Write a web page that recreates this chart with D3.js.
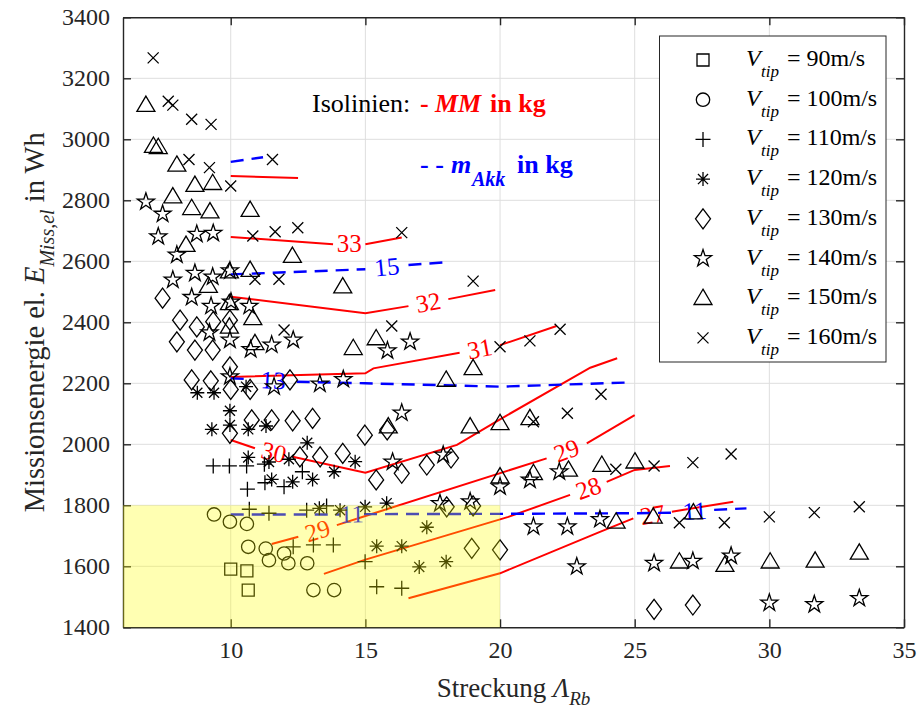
<!DOCTYPE html>
<html>
<head>
<meta charset="utf-8">
<script src="https://cdn.jsdelivr.net/npm/d3@7"></script>
<style>
body { margin: 0; background: #fff; }
text, tspan { font-family: "Liberation Serif", "Times New Roman", serif; }
</style>
</head>
<body>
<div id="chart"></div>
<script>
// axis ticks
const xTicks = [10, 15, 20, 25, 30, 35];
const yTicks = [1400, 1600, 1800, 2000, 2200, 2400, 2600, 2800, 3000, 3200, 3400];

// scatter series, one per tip speed  [Streckung, Missionsenergie]
const tipSpeeds = [90, 100, 110, 120, 130, 140, 150, 160];
const markerNames = ['square', 'circle', 'plus', 'asterisk', 'diamond', 'star', 'triangle', 'times'];

const v90 = [[10.0,1591],[10.6,1585],[10.65,1522]];
const v100 = [[9.38,1770],[9.97,1746],[10.6,1739],[10.65,1664],[11.3,1658],[11.42,1620],[11.98,1642],
  [12.14,1610],[12.84,1610],[13.07,1522],[13.84,1522]];
const v110 = [[9.35,1929],[9.95,1929],[10.59,1929],[10.62,1853],[11.25,1935],[11.27,1874],[11.98,1861],
  [12.66,1910],[10.69,1787],[11.42,1774],[12.82,1784],[13.56,1798],[12.32,1664],[13.07,1670],[13.81,1670],
  [14.99,1615],[15.42,1533],[16.35,1528]];
const v120 = [[8.76,2169],[9.38,2169],[10.57,2189],[9.97,2110],[9.97,2063],[9.3,2049],[10.65,2049],
  [11.31,2060],[10.65,1957],[11.42,1942],[12.16,1951],[12.84,2005],[11.52,1885],[12.3,1877],[13.04,1885],
  [13.84,1910],[14.62,1943],[13.29,1790],[14.06,1784],[14.99,1795],[15.42,1666],[15.79,1807],[16.35,1666],
  [17.28,1728],[17.0,1598],[18.0,1615]];
const v130 = [[7.47,2479],[8.12,2407],[8.74,2385],[9.35,2402],[9.97,2407],[8.0,2336],[8.67,2309],[9.33,2309],
  [9.97,2254],[8.55,2211],[9.26,2208],[10.0,2180],[10.72,2180],[12.2,2211],[10.78,2080],[11.52,2080],
  [12.3,2077],[13.04,2085],[9.97,2036],[14.98,2030],[12.57,1959],[13.32,1959],[14.16,1970],[15.4,1883],
  [15.81,2047],[16.35,1905],[17.28,1932],[18.18,1955],[18.02,1795],[19.0,1798],[18.95,1659],[20.0,1654],
  [25.72,1459],[27.16,1473]];
const v140 = [[6.85,2795],[7.47,2755],[7.31,2681],[8.74,2689],[9.35,2692],[8.0,2621],[7.85,2539],[8.67,2561],
  [9.33,2549],[9.97,2569],[8.55,2482],[9.27,2453],[10.01,2467],[10.69,2453],[9.21,2366],[9.97,2342],
  [11.52,2326],[12.32,2342],[10.74,2311],[13.31,2198],[14.18,2213],[11.61,2189],[9.97,2222],[15.82,2307],
  [16.66,2336],[16.35,2103],[16.01,1942],[17.89,1965],[18.89,1812],[17.77,1806],[20.0,1861],[21.11,1883],
  [22.2,1910],[21.24,1730],[22.5,1730],[23.71,1754],[22.85,1599],[25.72,1610],[27.16,1617],[28.58,1634],
  [30.0,1480],[31.67,1475],[33.34,1495]];
const v150 = [[6.85,3112],[7.13,2978],[7.31,2974],[8.0,2916],[8.67,2850],[9.33,2856],[7.85,2812],[8.55,2774],
  [9.23,2763],[10.72,2768],[8.34,2653],[12.29,2617],[10.72,2571],[9.17,2519],[9.95,2566],[9.95,2462],
  [10.82,2413],[9.95,2385],[10.9,2331],[14.16,2517],[14.55,2315],[15.4,2347],[18.0,2211],[19.0,2249],
  [15.85,2058],[18.89,2058],[20.0,2069],[21.11,2085],[20.0,1894],[21.24,1905],[22.54,1916],[23.78,1932],
  [25.01,1943],[24.31,1746],[25.69,1762],[27.18,1776],[26.66,1615],[28.35,1604],[30.03,1615],[31.7,1618],
  [33.34,1644]];
const v160 = [[7.12,3267],[7.68,3125],[7.85,3112],[8.55,3066],[9.27,3049],[8.45,2934],[9.21,2907],[10.0,2847],
  [11.55,2934],[10.82,2683],[11.65,2697],[12.49,2710],[16.35,2694],[10.9,2541],[11.79,2541],[11.98,2375],
  [15.98,2388],[19.0,2535],[20.0,2320],[21.11,2339],[22.23,2377],[23.75,2164],[22.5,2102],[21.24,2074],
  [24.3,1918],[25.72,1929],[27.16,1940],[28.58,1968],[26.66,1743],[28.33,1743],[30.0,1762],[31.67,1776],
  [33.34,1795]];
const seriesPoints = [v90, v100, v110, v120, v130, v140, v150, v160];

// isolines MM in kg (solid red); pieces are split where the inline label sits
const mmLevels = [null, 33, 32, 31, 30, 29, 28, 27];
const mmTop = [[[10,2880],[12.5,2873]]];
const mm33 = [[[10,2680],[13.8,2656]], [[15,2656],[16.35,2678]]];
const mm32 = [[[10,2484],[15,2430],[16.6,2453]], [[18.08,2476],[19.82,2506]]];
const mm31 = [[[10,2221],[15,2233],[15.3,2249],[18.5,2300]], [[20,2325],[22.1,2388]]];
const mm30 = [[[10,2014],[10.9,1987]], [[12.3,1959],[15,1907],[18.4,1998],[20,2082],[23.35,2251],[24.35,2282]]];
const mm29 = [[[11.52,1673],[12.51,1697]], [[13.94,1735],[15,1765],[21.73,1954]], [[23.22,2003],[25.0,2096]]];
const mm28 = [[[13.46,1575],[15,1622],[20.31,1762],[22.6,1834]], [[23.96,1877],[25.0,1916],[26.31,1929]]];
const mm27 = [[[16.6,1495],[20.0,1577],[23.71,1713],[24.95,1757]], [[26.38,1779],[28.66,1812]]];
const mmLines = [mmTop, mm33, mm32, mm31, mm30, mm29, mm28, mm27];

// isolines m_Akk in kg (dashed blue)
const akkLevels = [null, 15, 13, 11];
const akkTop = [[[10,2926],[11.2,2941]]];
const akk15 = [[[10,2557],[15,2574]], [[16.6,2588],[18.0,2597]]];
const akk13 = [[[10,2216],[10.7,2214]], [[12.45,2205],[15,2200],[20,2189],[24.9,2203]]];
const akk11 = [[[10,1770],[14.05,1770]], [[14.95,1771],[20,1772],[25,1774],[26.5,1776]], [[27.95,1785],[29.15,1790]]];
const akkLines = [akkTop, akk15, akk13, akk11];

const W = 920, H = 717;
const margin = {left: 123, right: 904, top: 17.3, bottom: 627.3};
const serif = '"Liberation Serif", "Times New Roman", serif';

const x = d3.scaleLinear().domain([6, 35]).range([margin.left, margin.right]);
const y = d3.scaleLinear().domain([1400, 3400]).range([margin.bottom, margin.top]);

const svg = d3.select('#chart').append('svg')
    .attr('width', W)
    .attr('height', H)
    .attr('font-family', serif);

svg.append('defs').append('clipPath').attr('id', 'plotClip')
    .append('rect')
    .attr('x', margin.left).attr('y', margin.top)
    .attr('width', margin.right - margin.left)
    .attr('height', margin.bottom - margin.top);

// grid
const grid = svg.append('g').attr('stroke', '#dedede').attr('stroke-width', 1);
grid.selectAll('line.gx').data(xTicks.filter(d => d < 35)).enter().append('line')
    .attr('x1', d => x(d)).attr('x2', d => x(d))
    .attr('y1', margin.top).attr('y2', margin.bottom);
grid.selectAll('line.gy').data(yTicks.filter(d => d > 1400 && d < 3400)).enter().append('line')
    .attr('x1', margin.left).attr('x2', margin.right)
    .attr('y1', d => y(d)).attr('y2', d => y(d));

// isolines
const line = d3.line().x(d => x(d[0])).y(d => y(d[1]));
const plot = svg.append('g').attr('clip-path', 'url(#plotClip)');

function drawIsolines(sets, levels, color, dash, width) {
    sets.forEach((pieces, k) => {
        plot.selectAll(null).data(pieces).enter().append('path')
            .attr('d', line)
            .attr('fill', 'none')
            .attr('stroke', color)
            .attr('stroke-width', width)
            .attr('stroke-dasharray', dash);
        if (levels[k] === null) return;
        for (let i = 0; i < pieces.length - 1; i++) {
            const a = pieces[i][pieces[i].length - 1], b = pieces[i + 1][0];
            const ax = x(a[0]), ay = y(a[1]), bx = x(b[0]), by = y(b[1]);
            const ang = Math.atan2(by - ay, bx - ax) * 180 / Math.PI;
            plot.append('text')
                .attr('transform', `translate(${(ax + bx) / 2},${(ay + by) / 2}) rotate(${ang})`)
                .attr('text-anchor', 'middle')
                .attr('dy', '0.33em')
                .attr('fill', color)
                .style('font-size', '25px')
                .text(levels[k]);
        }
    });
}
drawIsolines(mmLines, mmLevels, '#ff0000', null, 2);
drawIsolines(akkLines, akkLevels, '#0000ff', '13,8', 2.4);

// marker shapes
const shapes = {
    square: {draw(c, s) { const r = Math.sqrt(s); c.rect(-r, -r, 2 * r, 2 * r); }},
    circle: {draw(c, s) { const r = Math.sqrt(s); c.moveTo(r, 0); c.arc(0, 0, r, 0, 2 * Math.PI); }},
    plus: {draw(c, s) { const r = Math.sqrt(s); c.moveTo(-r, 0); c.lineTo(r, 0); c.moveTo(0, -r); c.lineTo(0, r); }},
    times: {draw(c, s) { const r = Math.sqrt(s); c.moveTo(-r, -r); c.lineTo(r, r); c.moveTo(-r, r); c.lineTo(r, -r); }},
    asterisk: {draw(c, s) {
        const r = Math.sqrt(s), q = r * 0.72;
        c.moveTo(-r, 0); c.lineTo(r, 0); c.moveTo(0, -r); c.lineTo(0, r);
        c.moveTo(-q, -q); c.lineTo(q, q); c.moveTo(-q, q); c.lineTo(q, -q);
    }},
    diamond: {draw(c, s) {
        const r = Math.sqrt(s);
        c.moveTo(0, -r); c.lineTo(0.75 * r, 0); c.lineTo(0, r); c.lineTo(-0.75 * r, 0); c.closePath();
    }},
    triangle: {draw(c, s) {
        const r = Math.sqrt(s);
        c.moveTo(0, -r); c.lineTo(r, 0.7 * r); c.lineTo(-r, 0.7 * r); c.closePath();
    }},
    star: {draw(c, s) {
        const r = Math.sqrt(s), ri = r * 0.382;
        for (let i = 0; i < 10; i++) {
            const rr = i % 2 ? ri : r, a = -Math.PI / 2 + i * Math.PI / 5;
            if (i === 0) c.moveTo(rr * Math.cos(a), rr * Math.sin(a));
            else c.lineTo(rr * Math.cos(a), rr * Math.sin(a));
        }
        c.closePath();
    }}
};
const markerRadius = {square: 6, circle: 6.7, plus: 7.5, asterisk: 7, diamond: 10, star: 9, triangle: 9, times: 5.5};
const symbolFor = name => d3.symbol().type(shapes[name]).size(markerRadius[name] * markerRadius[name]);

seriesPoints.forEach((pts, i) => {
    const name = markerNames[i];
    plot.append('g').selectAll('path').data(pts).enter().append('path')
        .attr('transform', d => `translate(${x(d[0])},${y(d[1])})`)
        .attr('d', symbolFor(name))
        .attr('fill', 'none')
        .attr('stroke', '#000')
        .attr('stroke-width', 1.3);
});

// axes (ticks inside, box on)
function styleAxis(g) {
    g.attr('font-family', serif);
    g.selectAll('path.domain').attr('stroke', '#262626').attr('stroke-width', 1.4);
    g.selectAll('.tick line').attr('stroke', '#262626').attr('stroke-width', 1.4);
    g.selectAll('.tick text').attr('fill', '#262626').style('font-size', '24px');
}
const fmt = d3.format('d');
svg.append('g').attr('transform', `translate(0,${margin.bottom})`)
    .call(d3.axisBottom(x).tickValues(xTicks).tickFormat(fmt).tickSize(-8).tickSizeOuter(0).tickPadding(14))
    .call(styleAxis);
svg.append('g').attr('transform', `translate(0,${margin.top})`)
    .call(d3.axisTop(x).tickValues(xTicks).tickSize(-8).tickSizeOuter(0).tickFormat(''))
    .call(styleAxis);
svg.append('g').attr('transform', `translate(${margin.left},0)`)
    .call(d3.axisLeft(y).tickValues(yTicks).tickFormat(fmt).tickSize(-8).tickSizeOuter(0).tickPadding(13))
    .call(styleAxis);
svg.append('g').attr('transform', `translate(${margin.right},0)`)
    .call(d3.axisRight(y).tickValues(yTicks).tickSize(-8).tickSizeOuter(0).tickFormat(''))
    .call(styleAxis);

// axis labels
const xl = svg.append('text')
    .attr('x', (margin.left + margin.right) / 2).attr('y', 697)
    .attr('text-anchor', 'middle').attr('fill', '#262626')
    .style('font-size', '27px');
xl.append('tspan').text('Streckung ');
xl.append('tspan').style('font-style', 'italic').text('Λ');
xl.append('tspan').style('font-style', 'italic').style('font-size', '19px').attr('dy', 8).text('Rb');

const yl = svg.append('text')
    .attr('transform', `translate(44,${(margin.top + margin.bottom) / 2}) rotate(-90)`)
    .attr('text-anchor', 'middle').attr('fill', '#262626')
    .style('font-size', '28.5px');
yl.append('tspan').text('Missionsenergie el. ');
yl.append('tspan').style('font-style', 'italic').text('E');
yl.append('tspan').style('font-style', 'italic').style('font-size', '20px').attr('dy', 10).text('Miss,el');
yl.append('tspan').attr('dy', -10).text(' in Wh');

// annotation
const a1 = svg.append('text').attr('y', 112).style('font-size', '26px');
a1.append('tspan').attr('x', 312).attr('fill', '#000').text('Isolinien:');
a1.append('tspan').attr('x', 420).attr('fill', '#ff0000').style('font-weight', 'bold').text('-');
a1.append('tspan').attr('x', 435).attr('fill', '#ff0000').style('font-weight', 'bold').style('font-style', 'italic').text('MM');
a1.append('tspan').attr('x', 490).attr('fill', '#ff0000').style('font-weight', 'bold').text('in kg');

const a2 = svg.append('text').attr('y', 173).style('font-size', '26px')
    .attr('fill', '#0000ff').style('font-weight', 'bold');
a2.append('tspan').attr('x', 420).text('- -');
a2.append('tspan').attr('x', 451).style('font-style', 'italic').text('m');
a2.append('tspan').attr('x', 472).style('font-style', 'italic').style('font-size', '20px').attr('dy', 13).text('Akk');
a2.append('tspan').attr('x', 517).attr('dy', -13).text('in kg');

// legend
const legend = svg.append('g');
legend.append('rect')
    .attr('x', 659.5).attr('y', 36).attr('width', 226.5).attr('height', 326)
    .attr('fill', '#fff').attr('stroke', '#262626').attr('stroke-width', 1);
const rows = legend.selectAll('g.row').data(tipSpeeds).enter().append('g')
    .attr('transform', (d, i) => `translate(0,${60 + i * 39.7})`);
rows.append('path')
    .attr('transform', 'translate(703,0)')
    .attr('d', (d, i) => symbolFor(markerNames[i])())
    .attr('fill', 'none').attr('stroke', '#000').attr('stroke-width', 1.3);
const lt = rows.append('text').attr('y', 6).style('font-size', '24px').attr('fill', '#000');
lt.append('tspan').attr('x', 746).style('font-style', 'italic').text('V');
lt.append('tspan').attr('x', 761).style('font-style', 'italic').style('font-size', '17px').attr('dy', 11).text('tip');
lt.append('tspan').attr('x', 787).attr('dy', -11).text(d => '= ' + d + 'm/s');

// target region
svg.append('rect')
    .attr('x', x(6)).attr('y', y(1800))
    .attr('width', x(20) - x(6)).attr('height', y(1400) - y(1800))
    .attr('fill', '#ffff00').attr('fill-opacity', 0.3);
</script>
</body>
</html>
